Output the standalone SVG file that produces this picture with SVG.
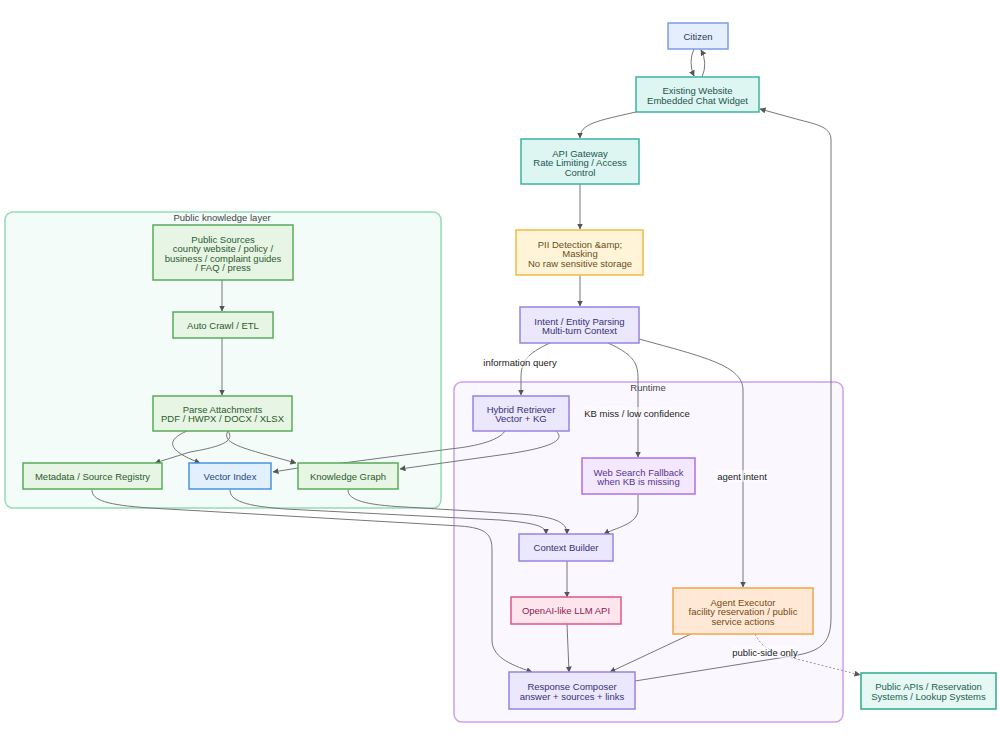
<svg xmlns="http://www.w3.org/2000/svg" width="1000" height="750" viewBox="0 0 1000 750">
<defs>
<marker id="arr" viewBox="0 0 6 6" refX="5.5" refY="3" markerWidth="6" markerHeight="6" orient="auto-start-reverse" markerUnits="userSpaceOnUse">
<path d="M0,0 L6,3 L0,6 z" fill="#555"/>
</marker>
<style>
text{font-family:"Liberation Sans",Arial,sans-serif;font-size:9.5px;text-anchor:middle}
.e{fill:none;stroke:#777;stroke-width:1;marker-end:url(#arr)}
.dot{stroke-dasharray:2 2;stroke:#999}
.lbl{fill:#222}
.lblbg{fill:#ffffff;fill-opacity:0.55}
.blue rect{fill:#e4eefd;stroke:#7a9ee8;stroke-width:1.5}
.blue text{fill:#2a3a60}
.teal rect{fill:#ddf6f1;stroke:#3bb3a2;stroke-width:1.5}
.teal text{fill:#1f5550}
.yel rect{fill:#fff4d8;stroke:#f0bb46;stroke-width:1.5}
.yel text{fill:#6a5020}
.pur rect{fill:#ebe7fd;stroke:#9b83df;stroke-width:1.5}
.pur text{fill:#3a3272}
.vio rect{fill:#f3e8fd;stroke:#ad72e4;stroke-width:1.5}
.vio text{fill:#5a3490}
.pink rect{fill:#fde5ee;stroke:#e05585;stroke-width:1.5}
.pink text{fill:#8a2250}
.ora rect{fill:#ffe8d5;stroke:#f0a644;stroke-width:1.5}
.ora text{fill:#774a14}
.grn rect{fill:#e7f5e4;stroke:#5aab5a;stroke-width:1.5}
.grn text{fill:#2e5a2e}
.vec rect{fill:#e2effc;stroke:#4c94dc;stroke-width:1.5}
.vec text{fill:#1e4a78}
.api rect{fill:#e6f8f3;stroke:#2fa98f;stroke-width:1.5}
.api text{fill:#1e5e50}
.ctitle{fill:#444}
</style>
</defs>

<g id="cluster-public">
<rect x="5" y="212" width="436" height="296" rx="8" fill="#f3fcf8" stroke="#96dab6" stroke-width="1.5"/>
<text class="ctitle" x="222" y="221">Public knowledge layer</text>
</g>
<g id="cluster-runtime">
<rect x="454" y="382" width="389" height="340" rx="8" fill="#fbf7fe" stroke="#c9a2ee" stroke-width="1.5"/>
<text class="ctitle" x="648" y="391">Runtime</text>
</g>

<g id="connectors">
<path class="e" d="M694,49 Q688,62 694,76"/>
<path class="e" d="M702,77 Q708,63 701,50"/>
<path class="e" d="M636,112 C596,121 580,124 580,138"/>
<path class="e" d="M580,184 L580,229"/>
<path class="e" d="M580,275 L580,306"/>
<path class="e" d="M550,343 C526,354 521,362 521,378 L521,395"/>
<path class="e" d="M608,343 C632,354 638,362 638,378 L638,457"/>
<path class="e" d="M639,339 C705,357 743,366 743,390 L743,587"/>
<path class="e" d="M222,280 L222,311"/>
<path class="e" d="M222,338 L222,395"/>
<path class="e" d="M187,431 C166,440 166,450 200,463"/>
<path class="e" d="M228,431 C234,440 226,446 190,452 L155,463"/>
<path class="e" d="M228,431 C222,441 236,446 260,453 L296,463"/>
<path class="e" d="M505,431 C498,442 470,447 450,449 L343,463 L298,468 L273,472"/>
<path class="e" d="M556,431 C566,440 552,448 500,455 L400,469"/>
<path class="e" d="M92,490 C92,500 106,505 150,508 L460,526 C486,528 492,534 492,550 L492,640 C492,656 508,664 532,672"/>
<path class="e" d="M230,490 C230,501 246,506 285,509 L500,520 C535,523 546,526 546,534"/>
<path class="e" d="M348,490 C348,500 365,505 405,507 L520,514 C560,517 567,524 567,534"/>
<path class="e" d="M638,495 L638,510 C638,524 615,528 604,534"/>
<path class="e" d="M567,561 L567,597"/>
<path class="e" d="M567,624 L569,672"/>
<path class="e" d="M691,634 L610,672"/>
<path class="e dot" d="M755,634 C760,645 768,650 785,656 L860,675"/>
<path class="e" d="M635,681 L798,655 C824,650 831,640 831,617 L831,140 C831,128 820,125 800,120 L760,109"/>
<rect class="lblbg" x="482" y="356" width="76" height="12"/>
<text class="lbl" x="520" y="366">information query</text>
<rect class="lblbg" x="586" y="407" width="102" height="12"/>
<text class="lbl" x="637" y="416.5">KB miss / low confidence</text>
<rect class="lblbg" x="716" y="470" width="52" height="12"/>
<text class="lbl" x="742" y="479.5">agent intent</text>
<rect class="lblbg" x="732" y="646" width="66" height="12"/>
<text class="lbl" x="765" y="656">public-side only</text>
</g>

<g id="citizen" class="blue"><rect x="668" y="23" width="60" height="26"/><text x="698" y="40">Citizen</text></g>
<g id="website" class="teal"><rect x="636" y="77" width="123" height="35"/><text x="697.5" y="94">Existing Website</text><text x="697.5" y="103.5">Embedded Chat Widget</text></g>
<g id="gateway" class="teal"><rect x="521" y="139" width="118" height="45"/><text x="580" y="156.5">API Gateway</text><text x="580" y="166">Rate Limiting / Access</text><text x="580" y="175.5">Control</text></g>
<g id="pii" class="yel"><rect x="516" y="230" width="127" height="45"/><text x="580" y="247.5">PII Detection &amp;amp;</text><text x="580" y="257">Masking</text><text x="580" y="266.5">No raw sensitive storage</text></g>
<g id="intent" class="pur"><rect x="520" y="307" width="119" height="36"/><text x="579.5" y="324.5">Intent / Entity Parsing</text><text x="579.5" y="334">Multi-turn Context</text></g>

<g id="sources" class="grn"><rect x="153" y="225" width="140" height="55"/><text x="223" y="242.5">Public Sources</text><text x="223" y="252">county website / policy /</text><text x="223" y="261.5">business / complaint guides</text><text x="223" y="271">/ FAQ / press</text></g>
<g id="crawl" class="grn"><rect x="173" y="312" width="100" height="26"/><text x="223" y="329">Auto Crawl / ETL</text></g>
<g id="parse" class="grn"><rect x="153" y="396" width="139" height="35"/><text x="222.5" y="412.5">Parse Attachments</text><text x="222.5" y="422">PDF / HWPX / DOCX / XLSX</text></g>
<g id="metadata" class="grn"><rect x="23" y="463" width="139" height="26"/><text x="92.5" y="480">Metadata / Source Registry</text></g>
<g id="vector" class="vec"><rect x="189" y="463" width="82" height="26"/><text x="230" y="480">Vector Index</text></g>
<g id="kg" class="grn"><rect x="298" y="463" width="100" height="26"/><text x="348" y="480">Knowledge Graph</text></g>

<g id="retriever" class="pur"><rect x="473" y="396" width="96" height="35"/><text x="521" y="412.5">Hybrid Retriever</text><text x="521" y="422">Vector + KG</text></g>
<g id="websearch" class="vio"><rect x="582" y="458" width="113" height="36"/><text x="638.5" y="475.5">Web Search Fallback</text><text x="638.5" y="485">when KB is missing</text></g>
<g id="context" class="pur"><rect x="519" y="534" width="94" height="27"/><text x="566" y="551">Context Builder</text></g>
<g id="llm" class="pink"><rect x="511" y="597" width="110" height="27"/><text x="566" y="614">OpenAI-like LLM API</text></g>
<g id="agent" class="ora"><rect x="673" y="588" width="140" height="46"/><text x="743" y="605.5">Agent Executor</text><text x="743" y="615">facility reservation / public</text><text x="743" y="624.5">service actions</text></g>
<g id="composer" class="pur"><rect x="509" y="672" width="126" height="37"/><text x="572" y="690">Response Composer</text><text x="572" y="699.5">answer + sources + links</text></g>
<g id="publicapis" class="api"><rect x="861" y="673" width="135" height="36"/><text x="928.5" y="690">Public APIs / Reservation</text><text x="928.5" y="699.5">Systems / Lookup Systems</text></g>
</svg>
